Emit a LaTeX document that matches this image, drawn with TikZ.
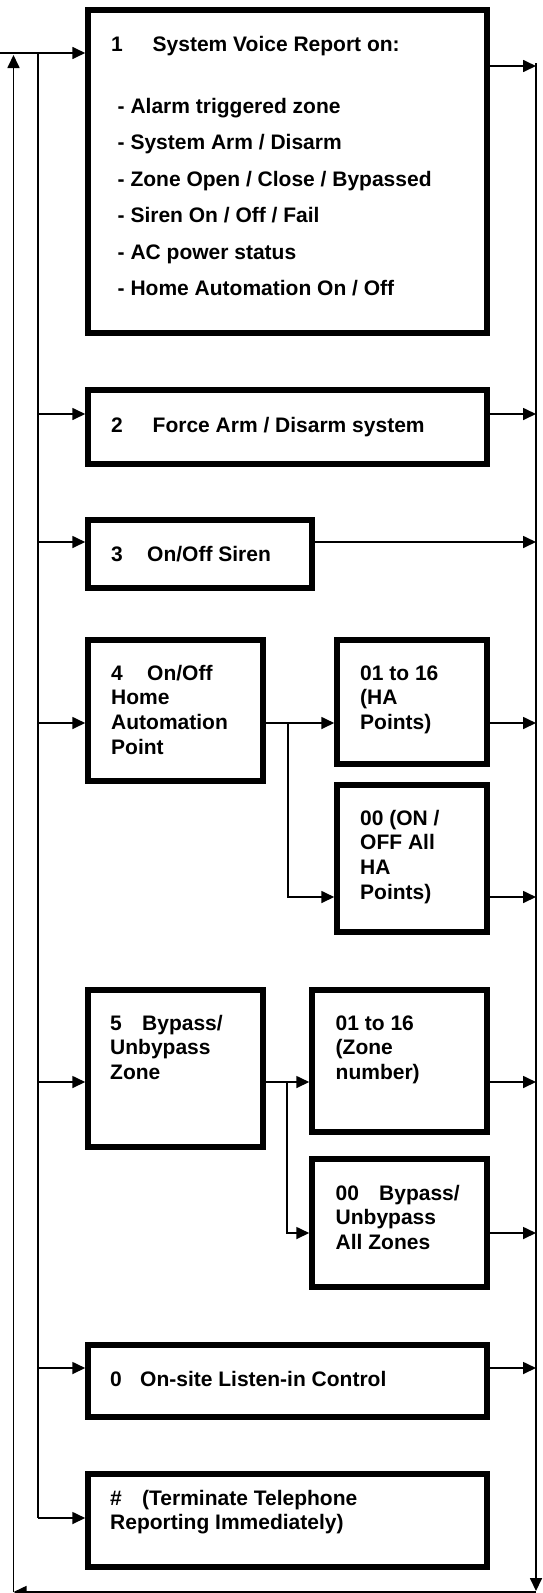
\documentclass[tikz,border=0pt]{standalone}
\usepackage{fontspec}
\setmainfont{Liberation Sans}
\usetikzlibrary{arrows.meta}
\begin{document}
\begin{tikzpicture}[x=1pt,y=-1pt,
  box/.style={draw, line width=5.5pt, inner sep=0pt, rectangle},
  wire/.style={line width=1.7pt},
  arr/.style={wire, -{Triangle[length=13pt,width=12pt]}},
  txt/.style={anchor=base west, inner sep=0pt, align=left, font=\bfseries\fontsize{21}{24.7}\selectfont},
  list/.style={txt, font=\bfseries\fontsize{21}{36.5}\selectfont}]
\clip (0,0) rectangle (542,1593);
\fill[white] (0,0) rectangle (542,1593);
% boxes
\node[box, minimum width=399pt, minimum height=323pt] (b1) at (287.5,171.5) {};
\node[box, minimum width=399pt, minimum height=74pt] (b2) at (287.5,427) {};
\node[box, minimum width=224pt, minimum height=68pt] (b3) at (200,554) {};
\node[box, minimum width=175pt, minimum height=141pt] (b4) at (175.5,710.5) {};
\node[box, minimum width=150pt, minimum height=124pt] (ha1) at (412,702) {};
\node[box, minimum width=150pt, minimum height=147pt] (ha0) at (412,858.5) {};
\node[box, minimum width=175pt, minimum height=157pt] (b5) at (175.5,1068.5) {};
\node[box, minimum width=175pt, minimum height=142pt] (z1) at (399.5,1061) {};
\node[box, minimum width=175pt, minimum height=128pt] (z0) at (399.5,1223) {};
\node[box, minimum width=399pt, minimum height=72pt] (b0) at (287.5,1381) {};
\node[box, minimum width=399pt, minimum height=93pt] (bh) at (287.5,1520.5) {};
% texts (multi-line nodes: anchor is the baseline of the last line)
\node[txt] (t1) at (111,51) {\makebox[41.5pt][l]{1}System Voice Report on:};
\node[list] (t1b) at (117.5,295.5) {- Alarm triggered zone\\- System Arm / Disarm\\- Zone Open / Close / Bypassed\\- Siren On / Off / Fail\\- AC power status\\- Home Automation On / Off};
\node[txt] (t2) at (111,432.7) {\makebox[41.5pt][l]{2}Force Arm / Disarm system};
\node[txt] (t3) at (111,561.7) {\makebox[36pt][l]{3}On/Off Siren};
\node[txt] (t4) at (111,754.1) {\makebox[36pt][l]{4}On/Off\\Home\\Automation\\Point};
\node[txt] (tha1) at (360,729.4) {01 to 16\\(HA\\Points)};
\node[txt] (tha0) at (360,899.1) {00 (ON /\\OFF All\\HA\\Points)};
\node[txt] (t5) at (110,1079.4) {\makebox[32pt][l]{5}Bypass/\\Unbypass\\Zone};
\node[txt] (tz1) at (335.5,1079.4) {01 to 16\\(Zone\\number)};
\node[txt] (tz0) at (335.5,1249.4) {\makebox[43.5pt][l]{00}Bypass/\\Unbypass\\All Zones};
\node[txt] (t0) at (110,1386.7) {\makebox[30pt][l]{0}On-site Listen-in Control};
\node[txt] (th) at (110,1529.7) {\makebox[32pt][l]{\#}(Terminate Telephone\\Reporting Immediately)};
% bus coordinates
\coordinate (tl) at (0,53);
\coordinate (ibTop) at (38,53);
\coordinate (ibBot) at (38,1518);
\coordinate (j2) at (38,414);
\coordinate (j3) at (38,542);
\coordinate (j4) at (38,723);
\coordinate (j5) at (38,1082);
\coordinate (j0) at (38,1368);
\coordinate (rTop) at (536,63);
\coordinate (rBot) at (536,1591);
\coordinate (brR) at (536,1592);
\coordinate (brL) at (13.5,1592);
\coordinate (lTop) at (13.5,55);
\coordinate (o1) at (536,66);
\coordinate (o2) at (536,414);
\coordinate (o3) at (536,542);
\coordinate (o4) at (536,723);
\coordinate (o4b) at (536,897);
\coordinate (o5) at (536,1082);
\coordinate (o5b) at (536,1233);
\coordinate (o0) at (536,1368);
\coordinate (k4) at (288,723);
\coordinate (k4b) at (288,897);
\coordinate (k5) at (287,1082);
\coordinate (k5b) at (287,1233);
% left side
\draw[arr] (tl) -- (tl -| b1.west);
\draw[wire] (ibTop) -- (ibBot);
\draw[arr] (j2) -- (j2 -| b2.west);
\draw[arr] (j3) -- (j3 -| b3.west);
\draw[arr] (j4) -- (j4 -| b4.west);
\draw[arr] (j5) -- (j5 -| b5.west);
\draw[arr] (j0) -- (j0 -| b0.west);
\draw[arr] (ibBot) -- (ibBot -| bh.west);
% sub branches
\draw[wire] (b4.east |- k4) -- (k4);
\draw[arr] (k4) -- (k4 -| ha1.west);
\draw[arr] (k4) -- (k4b) -- (k4b -| ha0.west);
\draw[wire] (b5.east |- k5) -- (k5);
\draw[arr] (k5) -- (k5 -| z1.west);
\draw[arr] (k5) -- (k5b) -- (k5b -| z0.west);
% outputs
\draw[arr] (o1 -| b1.east) -- (o1);
\draw[arr] (o2 -| b2.east) -- (o2);
\draw[arr] (o3 -| b3.east) -- (o3);
\draw[arr] (o4 -| ha1.east) -- (o4);
\draw[arr] (o4b -| ha0.east) -- (o4b);
\draw[arr] (o5 -| z1.east) -- (o5);
\draw[arr] (o5b -| z0.east) -- (o5b);
\draw[arr] (o0 -| b0.east) -- (o0);
% return loop
\draw[arr] (rTop) -- (rBot);
\draw[arr] (brR) -- (brL);
\draw[arr] (brL) -- (lTop);
\end{tikzpicture}
\end{document}
